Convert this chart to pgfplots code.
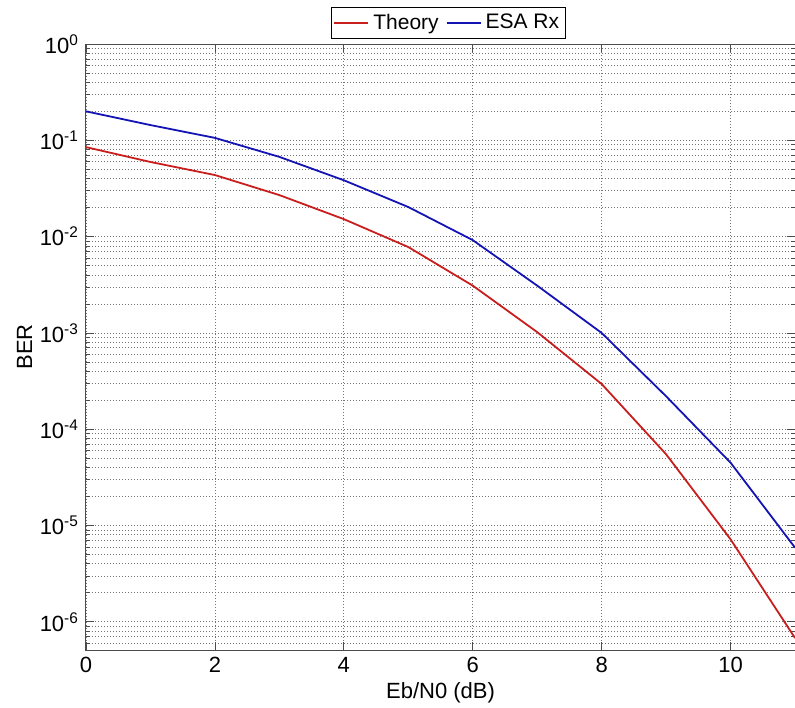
\documentclass[border=0pt]{standalone}
\usepackage{fontspec}
\setmainfont{Liberation Sans}
\usepackage{pgfplots}
\pgfplotsset{compat=1.18}
\definecolor{theory}{RGB}{200,30,30}
\definecolor{esarx}{RGB}{20,20,180}

\begin{document}
\begin{tikzpicture}
\begin{semilogyaxis}[
  scale only axis,
  width=354.5pt, height=303pt,
  xmin=0, xmax=11,
  ymin=5.1e-7, ymax=1,
  log basis y=10,
  xtick={0,2,4,6,8,10},
  ytick={1e-6,1e-5,1e-4,1e-3,1e-2,1e-1,1},
  minor ytick={6e-7,7e-7,8e-7,9e-7,
    2e-6,3e-6,4e-6,5e-6,6e-6,7e-6,8e-6,9e-6,
    2e-5,3e-5,4e-5,5e-5,6e-5,7e-5,8e-5,9e-5,
    2e-4,3e-4,4e-4,5e-4,6e-4,7e-4,8e-4,9e-4,
    2e-3,3e-3,4e-3,5e-3,6e-3,7e-3,8e-3,9e-3,
    2e-2,3e-2,4e-2,5e-2,6e-2,7e-2,8e-2,9e-2,
    0.2,0.3,0.4,0.5,0.6,0.7,0.8,0.9},
  yticklabel={10\textsuperscript{\pgfmathprintnumber[assume math mode=true]{\tick}}},
  xticklabel style={font=\fontsize{11}{13}\selectfont},
  yticklabel style={font=\fontsize{11}{13}\selectfont},
  /pgf/number format/assume math mode=true,
  tick align=inside,
  major tick length=4pt,
  minor tick length=2pt,
  tick style={black!70, line width=0.4pt},
  grid=both,
  major grid style={black!55, dash pattern=on 0.5pt off 1pt},
  minor grid style={black!55, dash pattern=on 0.5pt off 1pt},
  axis line style={black!70, line width=0.5pt},
  xlabel={Eb/N0 (dB)},
  ylabel={BER},
  xlabel style={font=\fontsize{11}{13}\selectfont, yshift=2pt},
  ylabel style={font=\fontsize{11}{13}\selectfont, yshift=-3pt},
  legend columns=2,
  legend style={at={(0.511,1)}, anchor=south, yshift=2.5pt,
    font=\fontsize{10.5}{12}\selectfont, draw=black, line width=0.4pt,
    inner sep=1.2pt, /tikz/every even column/.append style={column sep=1.5pt}},
  legend image code/.code={\draw[#1] (0pt,0pt) -- (17pt,0pt);},
]
\addplot[theory, line width=0.9pt] coordinates {
  (0,0.085) (1,0.0596) (2,0.0436) (3,0.027) (4,0.0152) (5,0.0078)
  (6,0.0031) (7,0.00102) (8,2.95e-4) (9,5.5e-5) (10,7.2e-6) (11,6.8e-7)
};
\addlegendentry{Theory}
\addplot[esarx, line width=0.9pt] coordinates {
  (0,0.20) (1,0.144) (2,0.106) (3,0.0673) (4,0.0385) (5,0.0203)
  (6,0.0092) (7,0.0031) (8,1.0e-3) (9,2.2e-4) (10,4.5e-5) (11,5.9e-6)
};
\addlegendentry{ESA Rx}
\end{semilogyaxis}
\path (current axis.south west) ++(-43pt,-28.5pt) coordinate (bbA);
\path (current axis.north east) ++(0pt,22pt) coordinate (bbB);
\pgfresetboundingbox
\path[use as bounding box] (bbA) rectangle (bbB);
\end{tikzpicture}
\end{document}
